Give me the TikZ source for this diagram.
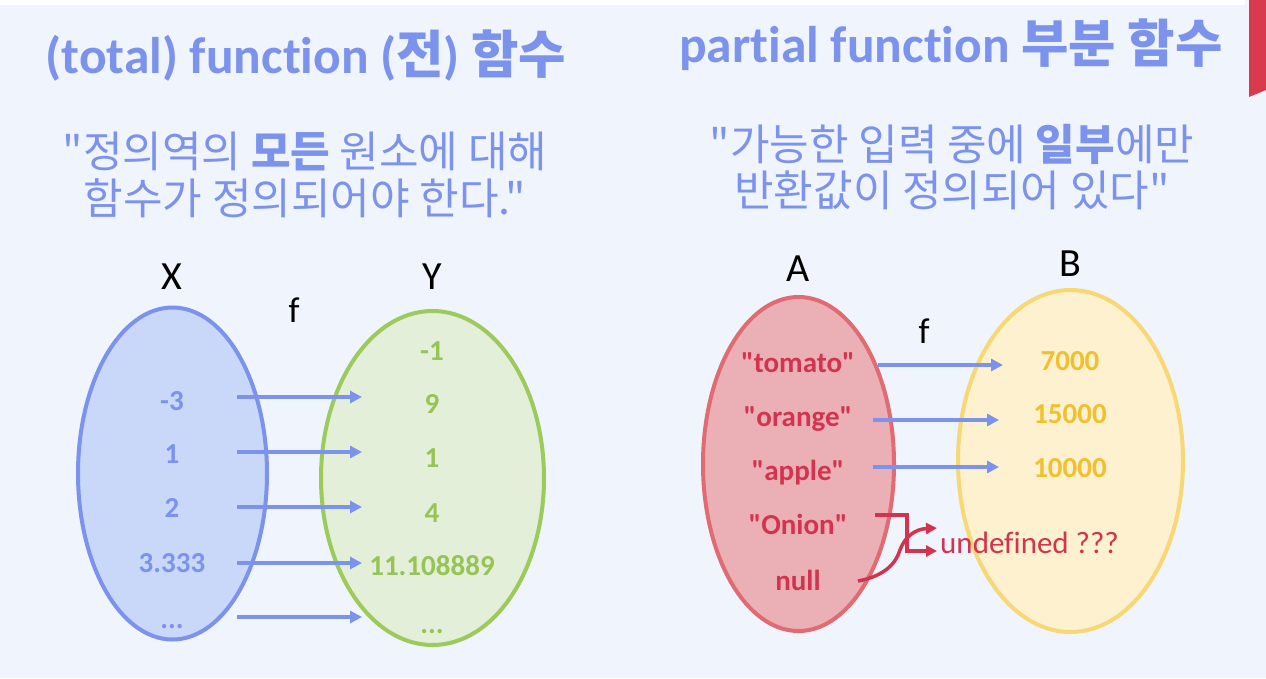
\documentclass[tikz,border=0pt]{standalone}
\usepackage{fontspec}
\setmainfont{Carlito}[Ligatures={NoCommon,TeXOff}]
\newfontfamily\kr{Noto Sans CJK KR}
\usetikzlibrary{arrows.meta}
\definecolor{bg}{HTML}{F0F4FC}
\definecolor{tblue}{HTML}{7B93EC}
\definecolor{xfill}{HTML}{C9D7F8}
\definecolor{yfill}{HTML}{E3EFD8}
\definecolor{ydraw}{HTML}{9CCB5C}
\definecolor{ytext}{HTML}{96C455}
\definecolor{afill}{HTML}{EBB0B5}
\definecolor{adraw}{HTML}{E06B72}
\definecolor{atext}{HTML}{D2344F}
\definecolor{bfill}{HTML}{FDF1CF}
\definecolor{bdraw}{HTML}{F7D875}
\definecolor{btext}{HTML}{F0C02E}
\definecolor{tab}{HTML}{D93A4E}
\tikzset{
  setell/.style={line width=4pt},
  item/.style={inner sep=0pt, anchor=base, font=\fontsize{29}{34}\selectfont\bfseries},
  lbl/.style={inner sep=0pt, anchor=base, font=\fontsize{40}{48}\selectfont},
  barrow/.style={draw=tblue, line width=3.5pt, -{Triangle[length=12pt,width=12pt]}},
  rarrow/.style={draw=atext, line width=3.5pt, -{Triangle[length=11pt,width=11pt]}},
  ttl/.style={inner sep=0pt, anchor=base, text=tblue, font=\fontsize{51.5}{58}\selectfont\bfseries},
  sub/.style={inner sep=0pt, anchor=base, text=tblue, align=center, font=\fontsize{43}{47}\selectfont\kr},
}
\begin{document}
\begin{tikzpicture}[x=1pt,y=-1pt]
\useasboundingbox (0,0) rectangle (1266,678);
\fill[bg] (0,0) rectangle (1266,678);
\fill[white] (0,0) rectangle (1245,5);
\fill[tab] (1249,0) -- (1266,0) -- (1266,90) -- (1249,97) -- cycle;

% titles
\node[ttl] (t1) at (306,73) {(total) function ({\kr 전}) {\kr 함수}};
\node[ttl] (t2) at (951,62) {partial function {\kr 부분 함수}};
\node[sub] (s1) at (305,214) {"정의역의 {\bfseries 모든} 원소에 대해\\함수가 정의되어야 한다."};
\node[sub, font=\fontsize{43}{46}\selectfont\kr] (s2) at (952,206) {"가능한 입력 중에 {\bfseries 일부}에만\\반환값이 정의되어 있다"};

% left sets
\fill[xfill] (172.5,473.5) ellipse [x radius=94.5, y radius=166];
\fill[yfill] (432.5,478) ellipse [x radius=111.5, y radius=167];
\draw[tblue, setell] (172.5,473.5) ellipse [x radius=94.5, y radius=166];
\draw[ydraw, setell] (432.5,478) ellipse [x radius=111.5, y radius=167];
\node[lbl] (X) at (172,289) {X};
\node[lbl] (Y) at (432,289) {Y};
\node[lbl, font=\fontsize{36}{40}\selectfont] (f1) at (294,322) {f};

\node[item, text=tblue] (x1) at (172,410) {-3};
\node[item, text=tblue] (x2) at (172,463) {1};
\node[item, text=tblue] (x3) at (172,517) {2};
\node[item, text=tblue] (x4) at (172,572) {3.333};
\node[item, text=tblue] (x5) at (172,628) {...};
\node[item, text=ytext] (y0) at (432,360) {-1};
\node[item, text=ytext] (y1) at (432,413) {9};
\node[item, text=ytext] (y2) at (432,467) {1};
\node[item, text=ytext] (y3) at (432,522) {4};
\node[item, text=ytext] (y4) at (432,575) {11.108889};
\node[item, text=ytext] (y5) at (432,633) {...};

\foreach \i/\yy in {1/397,2/452,3/507,4/563,5/617}{
  \coordinate (ls\i) at (237,\yy);
  \coordinate (le\i) at (362,\yy);
  \draw[barrow] (ls\i) -- (le\i);
}

% right sets
\fill[afill] (798.5,464) ellipse [x radius=95.5, y radius=167];
\fill[bfill] (1070.5,461) ellipse [x radius=112.5, y radius=171];
\draw[adraw, setell] (798.5,464) ellipse [x radius=95.5, y radius=167];
\draw[bdraw, setell] (1070.5,461) ellipse [x radius=112.5, y radius=171];
\node[lbl] (A) at (798,281) {A};
\node[lbl] (B) at (1070,276) {B};
\node[lbl, font=\fontsize{36}{40}\selectfont] (f2) at (924,343) {f};

\node[item, text=atext] (a1) at (798,372) {"tomato"};
\node[item, text=atext] (a2) at (798,426) {"orange"};
\node[item, text=atext] (a3) at (798,480) {"apple"};
\node[item, text=atext] (a4) at (798,534) {"Onion"};
\node[item, text=atext] (a5) at (798,590) {null};
\node[item, text=btext] (b1) at (1070,370) {7000};
\node[item, text=btext] (b2) at (1070,423) {15000};
\node[item, text=btext] (b3) at (1070,477) {10000};

\coordinate (rs1) at (878,365); \coordinate (re1) at (1003,365);
\coordinate (rs2) at (873,420); \coordinate (re2) at (999,420);
\coordinate (rs3) at (873,467); \coordinate (re3) at (999,467);
\draw[barrow] (rs1) -- (re1);
\draw[barrow] (rs2) -- (re2);
\draw[barrow] (rs3) -- (re3);

\node[inner sep=0pt, anchor=base west, text=atext, font=\fontsize{31}{36}\selectfont] (u) at (940,553) {undefined ???};
\coordinate (o1) at (875,515);
\coordinate (o2) at (937,551);
\coordinate (n1) at (858,581);
\coordinate (n2) at (937,528);
\draw[rarrow] (o1) -- (907,515) -- (907,551) -- (o2);
\draw[rarrow] (n1) .. controls (885,576) and (896,563) .. (900,550) .. controls (905,536) and (916,529) .. (n2);
\end{tikzpicture}
\end{document}
